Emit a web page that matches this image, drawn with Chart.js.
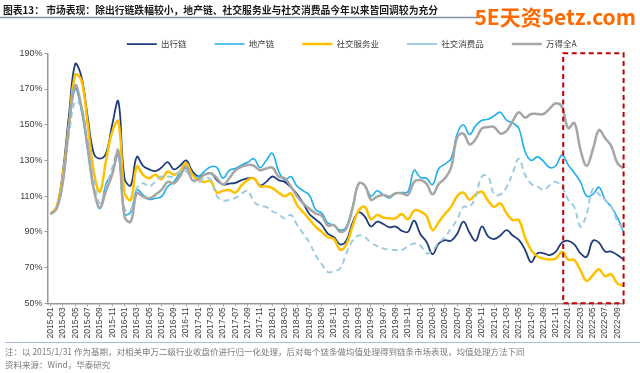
<!DOCTYPE html>
<html><head><meta charset="utf-8">
<script src="https://cdn.jsdelivr.net/npm/chart.js@4"></script>
<style>html,body{margin:0;padding:0;background:#fff;}canvas{display:block;}</style>
</head><body>
<canvas id="c" width="640" height="373"></canvas>
<script>
// ---- categories (monthly) ----
const months = [
 '2015-01','2015-02','2015-03','2015-04','2015-05','2015-06','2015-07','2015-08','2015-09','2015-10','2015-11','2015-12',
 '2016-01','2016-02','2016-03','2016-04','2016-05','2016-06','2016-07','2016-08','2016-09','2016-10','2016-11','2016-12',
 '2017-01','2017-02','2017-03','2017-04','2017-05','2017-06','2017-07','2017-08','2017-09','2017-10','2017-11','2017-12',
 '2018-01','2018-02','2018-03','2018-04','2018-05','2018-06','2018-07','2018-08','2018-09','2018-10','2018-11','2018-12',
 '2019-01','2019-02','2019-03','2019-04','2019-05','2019-06','2019-07','2019-08','2019-09','2019-10','2019-11','2019-12',
 '2020-01','2020-02','2020-03','2020-04','2020-05','2020-06','2020-07','2020-08','2020-09','2020-10','2020-11','2020-12',
 '2021-01','2021-02','2021-03','2021-04','2021-05','2021-06','2021-07','2021-08','2021-09','2021-10','2021-11','2021-12',
 '2022-01','2022-02','2022-03','2022-04','2022-05','2022-06','2022-07','2022-08','2022-09','2022-10'
];
// tick labels shown on the x axis (every second month)
const xTickLabels = [
 '2015-01','2015-03','2015-05','2015-07','2015-09','2015-11',
 '2016-01','2016-03','2016-05','2016-07','2016-09','2016-11',
 '2017-01','2017-03','2017-05','2017-07','2017-09','2017-11',
 '2018-01','2018-03','2018-05','2018-07','2018-09','2018-11',
 '2019-01','2019-03','2019-05','2019-07','2019-09','2019-11',
 '2020-01','2020-03','2020-05','2020-07','2020-09','2020-11',
 '2021-01','2021-03','2021-05','2021-07','2021-09','2021-11',
 '2022-01','2022-03','2022-05','2022-07','2022-09'
];
const yTickValues = [50,70,90,110,130,150,170,190];
const seriesNames = ['出行链','地产链','社交服务业','社交消费品','万得全A'];

// ---- series values (%) ----
const chuxing = [
 100,104,124,156,184,177,155,134,131,134,
 150,163,120,116,132,127,125,124,126,129,
 125,127,130,124,121,122,123,119,116.5,117,
 117.5,119,120,120,116,118,121,119,118,115,
 111,106,100,97,94,89,87,83,85,95,
 101,98.5,93,95.7,94.4,92.5,93,90.6,90,96.3,
 88.8,84.5,77.5,83.5,85.4,85,89,95.7,89.5,85,
 93,87.5,86,88,91,88,85.5,80,73,78,
 78,77,79,84,85,83,78,76,85,84,
 79,79,77,74.5
];
const dichan = [
 100,103,118,149,170,158,136,114,103,117,
 123,133,100,101,113.5,110.7,108.2,108.8,109.7,115.4,
 118,122.8,125.7,122,121,124,126.5,126,120,124.5,
 125.5,127.5,129,131,126,130,134,124,119,121,
 115.5,113,110.5,102.5,100.5,95,93.8,91,93,104,
 117,116,110,113,110.7,109,111.5,112,112.5,124.5,
 120.5,120,116.5,125.5,128,131,145,150,144.5,149.5,
 152.5,153,155,157,152.5,151,148,135,130,132,
 129.5,126,127,133,127.5,123,118,110,111,115,
 108,104,98,90
];
const shejiaoFuwu = [
 100,104,122,150,178,175,151,124,112.5,130,
 146,151.9,112,107.9,126.6,122,120,122,119.5,123.8,
 122,123.8,128.5,122,119,118,118.5,112,113,113.5,
 112,116,119,120,115.5,115.5,114.5,112,110,111.5,
 105,101,97,93,90,87,86,80,83,93,
 102,104,97,99.5,98,97.6,97.6,100,97,102,
 101.5,99,91,95.5,100,104,110,112,108,111,
 112.5,107.5,104,106,100.4,96.6,96.6,87,79.8,76.4,
 75,74.5,75,78.8,74.5,74.2,68.5,62.5,65.7,69,
 65.2,66.3,61,60
];
const shejiaoXiaofei = [
 100,103,120,145,163,160,141,119,106,115,
 126,136,103,102,114.4,117.2,115.4,118.2,121,121,
 121,124,124,119,117.5,120.5,119,110,107.5,108,
 109,111.5,113,107,104.5,104,101.5,100,97.5,99.5,
 94,89,84,77,72,67.5,68,69.5,78,85,
 88,87,84,82,80.7,80,79.8,79.8,82,83.5,
 82.5,78,79.5,84,87,92,97,104,104,110,
 121,121,111,111,115,123,131,122,117,115.5,
 113.5,116,118,115,108,104,93,100,114,111,
 108,104,96,91
];
const wandeQuanA = [
 100,103,118,150,172,160,138,114,103.5,113,
 122,135,98.5,95.7,111.6,109.7,108.8,110.7,113.5,118,
 117.2,121,126.6,119,119.5,122,122.8,120,116.5,120,
 124.5,126.5,127.5,127,124.5,125.5,126,121,120,115.4,
 110,106,103,100.4,99,93.5,93.8,90,92,103,
 117,116,108,109.7,110.7,109.7,111.6,111.6,110.7,118,
 119,117,111,116.8,120,126,143,145,139,142,
 148,148.7,148.7,145,146.5,152,157,154,156,156,
 156,159,162,160,148,151,136,127,136,147,
 142.5,138,128.5,125.5
];
// highlighted period (red dashed box)
const highlightFrom = '2022-01';
const highlightTo = '2022-10';

const tickIndex = xTickLabels.map(l => months.indexOf(l));
const toXY = arr => arr.map((v, i) => ({x: i, y: v}));

function ds(name, values, color, width, dash, order) {
  return {label: name, data: toXY(values), borderColor: color, backgroundColor: color,
    borderWidth: width, borderDash: dash, pointRadius: 0, pointHoverRadius: 0,
    tension: 0.4, fill: false, order: order};
}

const CJK = "'Noto Sans CJK SC', 'Noto Sans', sans-serif";
Chart.defaults.font.family = "'Liberation Sans', Arial, sans-serif";

const decor = {
  id: 'decor',
  afterLayout(chart) {
    const lg = chart.legend;
    if (lg) { lg.left += 40; lg.right += 40; lg.top += 5; lg.bottom += 5; }
  },
  afterDraw(chart) {
    const ctx = chart.ctx;
    const xs = chart.scales.x, ys = chart.scales.y;
    ctx.save();
    // title
    ctx.fillStyle = '#1a1a1a';
    ctx.font = "bold 9.8px " + CJK;
    ctx.textBaseline = 'middle';
    ctx.textAlign = 'left';
    ctx.fillText('图表13： 市场表现：除出行链跌幅较小，地产链、社交服务业与社交消费品今年以来皆回调较为充分', 3, 10);
    ctx.strokeStyle = '#7f8fa6';
    ctx.lineWidth = 1.5;
    ctx.beginPath(); ctx.moveTo(0, 17.5); ctx.lineTo(480, 17.5); ctx.stroke();
    // watermark
    ctx.fillStyle = '#ff6a00';
    ctx.font = "bold 21px " + CJK;
    ctx.textAlign = 'right';
    ctx.fillText('5E天资5etz.com', 636, 17);
    // footer
    ctx.strokeStyle = '#a9bdd6';
    ctx.lineWidth = 1;
    ctx.beginPath(); ctx.moveTo(5, 342.5); ctx.lineTo(640, 342.5); ctx.stroke();
    ctx.fillStyle = '#7a7a7a';
    ctx.font = "8.5px " + CJK;
    ctx.textAlign = 'left';
    ctx.fillText('注：以 2015/1/31 作为基期，对相关申万二级行业收盘价进行归一化处理，后对每个链条做均值处理得到链条市场表现，均值处理方法下同', 5, 352);
    ctx.fillText('资料来源：Wind，华泰研究', 5, 365);
    // red dashed highlight box
    const x0 = xs.getPixelForValue(months.indexOf(highlightFrom) - 0.8);
    const x1 = xs.getPixelForValue(months.indexOf(highlightTo));
    const y0 = ys.getPixelForValue(ys.max);
    const y1 = ys.getPixelForValue(ys.min);
    ctx.strokeStyle = '#c00000';
    ctx.lineWidth = 2;
    ctx.setLineDash([5, 3.5]);
    ctx.strokeRect(x0, y0, x1 - x0, y1 - y0);
    ctx.restore();
  }
};

new Chart(document.getElementById('c'), {
  type: 'line',
  data: {
    datasets: [
      ds(seriesNames[0], chuxing, '#1f3d7a', 1.8, [], 4),
      ds(seriesNames[1], dichan, '#1eaeea', 1.6, [], 3),
      ds(seriesNames[2], shejiaoFuwu, '#ffc000', 2.5, [], 2),
      ds(seriesNames[3], shejiaoXiaofei, '#9fcbe0', 2, [6, 4], 1),
      ds(seriesNames[4], wandeQuanA, '#a6a6a6', 2.5, [], 0)
    ]
  },
  options: {
    responsive: false,
    animation: false,
    devicePixelRatio: 1,
    events: [],
    layout: {padding: {top: 6.8, left: 0, right: 16.4, bottom: 32}},
    plugins: {
      legend: {
        position: 'top',
        labels: {
          usePointStyle: true, pointStyle: 'line', pointStyleWidth: 30, boxHeight: 8,
          padding: 28, color: '#404040', font: {family: CJK, size: 8.5},
          sort: (a, b) => a.datasetIndex - b.datasetIndex
        }
      },
      tooltip: {enabled: false},
      title: {display: false}
    },
    scales: {
      x: {
        type: 'linear', min: -0.5, max: months.length - 1,
        afterBuildTicks: s => { s.ticks = tickIndex.map(v => ({value: v})); },
        afterFit: s => { s.height = 37.7; },
        ticks: {autoSkip: false, maxRotation: 90, minRotation: 90, padding: 1,
          font: {size: 8.5}, color: '#404040', callback: v => months[v]},
        grid: {drawOnChartArea: false, tickLength: 3, color: '#999'},
        border: {color: '#999', width: 1.5}
      },
      y: {
        min: yTickValues[0], max: yTickValues[yTickValues.length - 1],
        afterBuildTicks: s => { s.ticks = yTickValues.map(v => ({value: v})); },
        afterFit: s => { s.width = 47.5; },
        ticks: {callback: v => v + '%', font: {size: 9}, color: '#404040', padding: 2},
        grid: {drawOnChartArea: false, tickLength: 3, color: '#999'},
        border: {color: '#999', width: 1.5}
      }
    }
  },
  plugins: [decor]
});
</script>
</body></html>
